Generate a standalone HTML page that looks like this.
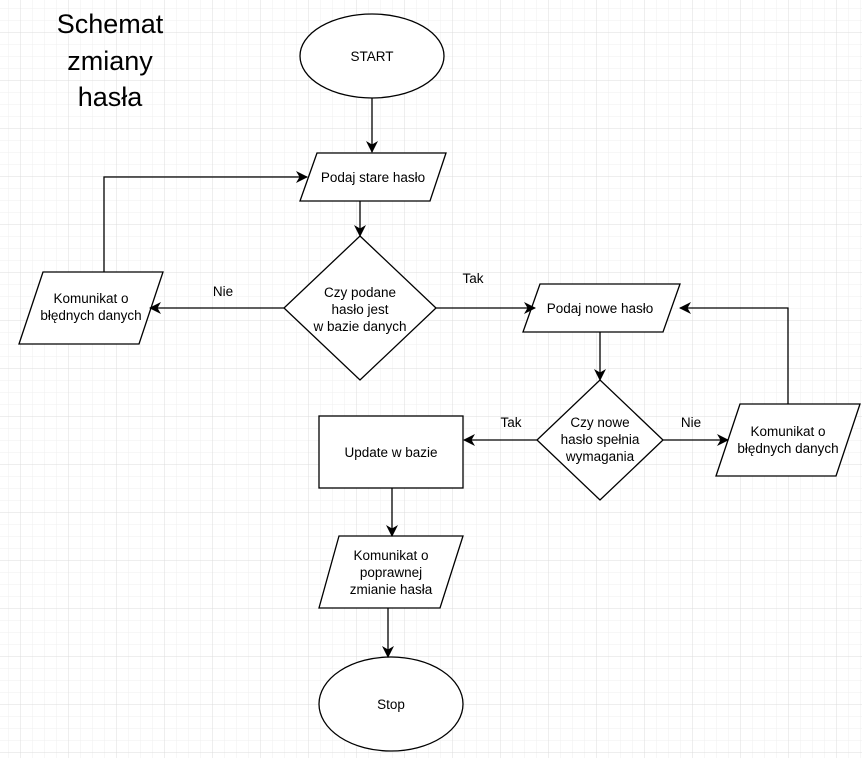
<!DOCTYPE html>
<html><head><meta charset="utf-8"><style>html,body{margin:0;padding:0;background:#fff}svg{display:block}text{font-family:"Liberation Sans",Arial,sans-serif;font-size:13.5px;fill:#000}</style></head><body>
<svg width="862" height="758" viewBox="0 0 862 758" xmlns="http://www.w3.org/2000/svg">
<defs>
<pattern id="minor" width="12" height="12" patternUnits="userSpaceOnUse" x="8" y="8"><path d="M12 0H0V12" fill="none" stroke="#efefef" stroke-width="1"/></pattern>
<pattern id="major" width="48" height="48" patternUnits="userSpaceOnUse" x="20" y="32"><path d="M48 0H0V48" fill="none" stroke="#dcdcdc" stroke-width="1"/></pattern>
<marker id="a" markerWidth="12" markerHeight="12" refX="11" refY="6" orient="auto" markerUnits="userSpaceOnUse"><path d="M0,0 L12,6 L0,12 L3.5,6 z" fill="#000"/></marker>
</defs>
<rect width="862" height="758" fill="url(#minor)"/>
<rect width="862" height="758" fill="url(#major)"/>
<g>
<text x="110" y="33" text-anchor="middle" style="font-size:27px">Schemat</text>
<text x="110" y="70" text-anchor="middle" style="font-size:27px">zmiany</text>
<text x="110" y="106" text-anchor="middle" style="font-size:27px">hasła</text>
</g>
<g fill="#fff" stroke="#000" stroke-width="1.3">
<ellipse cx="372" cy="56" rx="72" ry="42"/>
<polygon points="317,153 446,153 430,201 300,201"/>
<polygon points="360,236 436,308 360,380 284,308"/>
<polygon points="43,272 163,272 139,344 19,344"/>
<polygon points="540,284 680,284 663,332 523,332"/>
<polygon points="600,380 663,440 600,500 537,440"/>
<polygon points="740,404 860,404 836,476 716,476"/>
<rect x="319" y="416" width="144" height="72"/>
<polygon points="339,536 463,536 440,608 319,608"/>
<ellipse cx="391" cy="704" rx="72" ry="47"/>
</g>
<g fill="none" stroke="#000" stroke-width="1.3" marker-end="url(#a)">
<path d="M372,98 V152"/>
<path d="M360,201 V236"/>
<path d="M284,308 H150"/>
<path d="M104,272 V177 H307"/>
<path d="M436,308 H535"/>
<path d="M600,332 V380"/>
<path d="M537,440 H464"/>
<path d="M663,440 H728"/>
<path d="M788,404 V308 H680"/>
<path d="M392,488 V536"/>
<path d="M388,608 V657"/>
</g>
<g text-anchor="middle">
<text x="372" y="61">START</text>
<text x="373" y="182">Podaj stare hasło</text>
<text x="360" y="297">Czy podane</text>
<text x="360" y="314">hasło jest</text>
<text x="360" y="331">w bazie danych</text>
<text x="91" y="303">Komunikat o</text>
<text x="91" y="320">błędnych danych</text>
<text x="223" y="296">Nie</text>
<text x="473" y="283">Tak</text>
<text x="600" y="313">Podaj nowe hasło</text>
<text x="600" y="427">Czy nowe</text>
<text x="600" y="444">hasło spełnia</text>
<text x="600" y="461">wymagania</text>
<text x="511" y="427">Tak</text>
<text x="691" y="427">Nie</text>
<text x="788" y="436">Komunikat o</text>
<text x="788" y="453">błędnych danych</text>
<text x="391" y="457">Update w bazie</text>
<text x="391" y="560">Komunikat o</text>
<text x="391" y="577">poprawnej</text>
<text x="391" y="594">zmianie hasła</text>
<text x="391" y="709">Stop</text>
</g>
</svg>
</body></html>
